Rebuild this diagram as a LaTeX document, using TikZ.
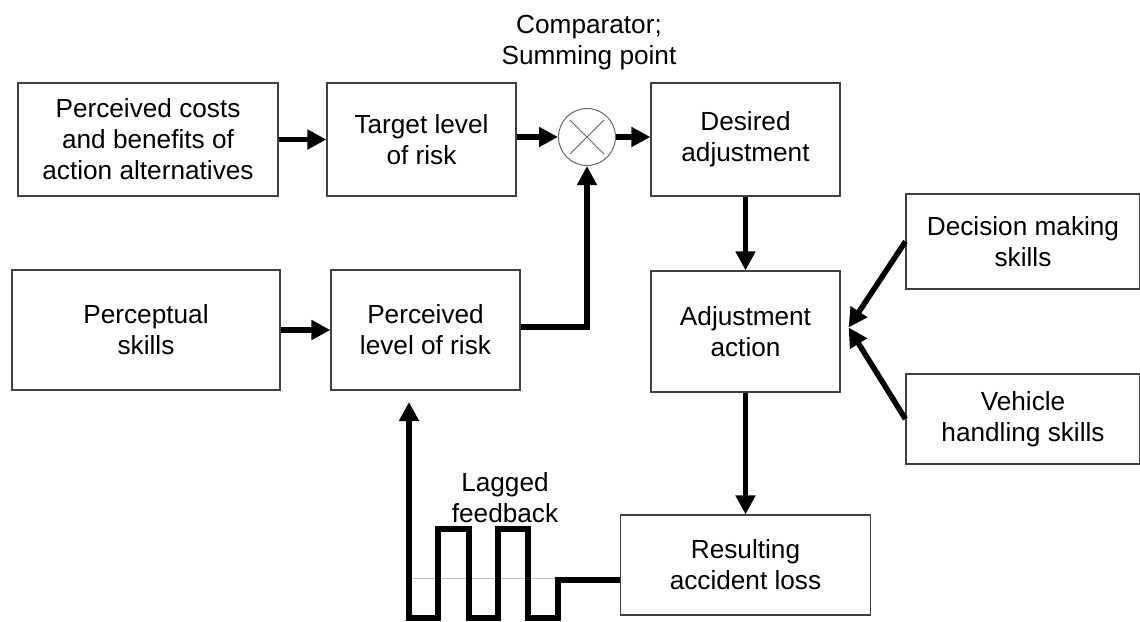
\documentclass[tikz,border=0pt]{standalone}
\usepackage{fontspec}
\setmainfont{Liberation Sans}
\usetikzlibrary{arrows.meta}

\begin{document}
\begin{tikzpicture}[x=1pt, y=-1pt,
	box/.style={draw=black!75, line width=1.2pt, align=center, inner sep=0pt,
		font=\fontsize{26.2}{31}\selectfont},
	lbl/.style={align=center, inner sep=0pt, font=\fontsize{26.2}{31}\selectfont},
	arr/.style={line width=5.5pt, line join=miter, -{Triangle[length=19pt, width=19pt]}},
	]
	\useasboundingbox (0,0) rectangle (1140,621);

	\node[box, minimum width=260pt, minimum height=113pt] (cost) at (148,139.5) {Perceived costs\\ and benefits of\\ action alternatives};
	\node[box, minimum width=189pt, minimum height=113pt] (target) at (421.5,139.5) {Target level\\ of risk};
	\node[draw=black!60, line width=1pt, circle, inner sep=0pt, minimum size=57pt] (sum) at (587,137) {};
	\node[box, minimum width=189pt, minimum height=113pt] (desired) at (745.5,139.5) {Desired\\ adjustment};

	\node[box, minimum width=268pt, minimum height=120pt] (perceptual) at (146,330) {Perceptual\\ skills};
	\node[box, minimum width=189pt, minimum height=120pt] (perceived) at (425.5,330) {Perceived\\ level of risk};
	\node[box, minimum width=189pt, minimum height=121pt] (action) at (745.5,331.5) {Adjustment\\ action};

	\node[box, minimum width=234pt, minimum height=95pt] (decision) at (1023,241.5) {Decision making\\ skills};
	\node[box, minimum width=234pt, minimum height=90pt] (vehicle) at (1023,419) {Vehicle\\ handling skills};
	\node[box, minimum width=250pt, minimum height=100pt] (loss) at (745.5,565) {Resulting\\ accident loss};

	\node[lbl] (comptext) at (589,43) {Comparator;\\ Summing point};
	\node[lbl] (lagtext) at (505,498) {Lagged\\ feedback};

	\draw[black!60, line width=1pt] (sum.center) +(-17,-17) -- +(17,17) +(-17,17) -- +(17,-17);

	\draw[arr] (cost) -- (target);
	\draw[arr] (target.east |- sum.west) -- (sum.west);
	\draw[arr] (sum.east) -- (desired.west |- sum.east);
	\draw[arr] (perceptual) -- (perceived);
	\draw[arr] ([yshift=3pt]perceived.east) -| (sum.south);
	\draw[arr] (desired) -- (action);
	\draw[arr] (action) -- (loss);
	\draw[arr] (decision.west) -- ([xshift=8pt,yshift=4pt]action.east);
	\draw[arr] (vehicle.west) -- ([xshift=8pt,yshift=4pt]action.east);

	\coordinate (fbin) at (409,618);
	\coordinate (fbout) at (409,402);
	\draw[gray!50, line width=0.8pt] (fbin |- 0,578) -- (558,578);
	\draw[arr] (loss.west |- 0,580) -- (558,580) -- (558,618) -- (528,618) -- (528,529)
		-- (498,529) -- (498,618) -- (469,618) -- (469,529) -- (438,529) -- (438,618)
		-- (fbin) -- (fbout);
\end{tikzpicture}
\end{document}
